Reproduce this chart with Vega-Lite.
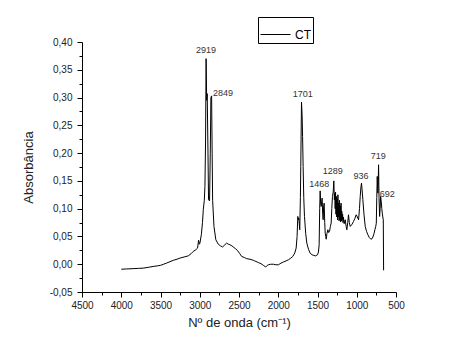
{
  "$schema": "https://vega.github.io/schema/vega-lite/v6.json",
  "autosize": {"type": "none"},
  "padding": {"left": 82, "top": 42, "right": 67, "bottom": 61},
  "width": 314,
  "height": 250,
  "background": "white",
  "config": {
    "view": {"stroke": null},
    "font": "Liberation Sans",
    "axis": {
      "grid": false,
      "domainColor": "black",
      "tickColor": "black",
      "labelColor": "#222",
      "titleColor": "#222",
      "labelFont": "Liberation Sans",
      "titleFont": "Liberation Sans",
      "labelFontSize": 10,
      "titleFontSize": 13,
      "titleFontWeight": "normal",
      "labelOverlap": false
    }
  },
  "datasets": {
    "spec": [
      {"wn": 4000, "abs": -0.009}, {"wn": 3930, "abs": -0.0085}, {"wn": 3849, "abs": -0.008}, {"wn": 3780, "abs": -0.0075},
      {"wn": 3721, "abs": -0.007}, {"wn": 3650, "abs": -0.0055}, {"wn": 3594, "abs": -0.004}, {"wn": 3540, "abs": -0.003},
      {"wn": 3500, "abs": -0.002}, {"wn": 3460, "abs": 0.0}, {"wn": 3423, "abs": 0.002}, {"wn": 3380, "abs": 0.0045},
      {"wn": 3338, "abs": 0.007}, {"wn": 3290, "abs": 0.009}, {"wn": 3253, "abs": 0.011}, {"wn": 3200, "abs": 0.013},
      {"wn": 3147, "abs": 0.015}, {"wn": 3110, "abs": 0.019}, {"wn": 3083, "abs": 0.023}, {"wn": 3050, "abs": 0.026},
      {"wn": 3028, "abs": 0.029}, {"wn": 3015, "abs": 0.043}, {"wn": 3005, "abs": 0.036}, {"wn": 2998, "abs": 0.038},
      {"wn": 2980, "abs": 0.053}, {"wn": 2965, "abs": 0.075}, {"wn": 2955, "abs": 0.098}, {"wn": 2942, "abs": 0.115},
      {"wn": 2934, "abs": 0.14}, {"wn": 2926, "abs": 0.22}, {"wn": 2919, "abs": 0.37}, {"wn": 2912, "abs": 0.295},
      {"wn": 2905, "abs": 0.307}, {"wn": 2895, "abs": 0.2}, {"wn": 2888, "abs": 0.116}, {"wn": 2875, "abs": 0.114},
      {"wn": 2866, "abs": 0.2}, {"wn": 2858, "abs": 0.3}, {"wn": 2849, "abs": 0.303}, {"wn": 2842, "abs": 0.2},
      {"wn": 2836, "abs": 0.115}, {"wn": 2825, "abs": 0.085}, {"wn": 2819, "abs": 0.068}, {"wn": 2795, "abs": 0.044},
      {"wn": 2764, "abs": 0.036}, {"wn": 2735, "abs": 0.033}, {"wn": 2709, "abs": 0.031}, {"wn": 2680, "abs": 0.035},
      {"wn": 2658, "abs": 0.038}, {"wn": 2635, "abs": 0.036}, {"wn": 2615, "abs": 0.035}, {"wn": 2590, "abs": 0.033},
      {"wn": 2572, "abs": 0.031}, {"wn": 2545, "abs": 0.028}, {"wn": 2521, "abs": 0.025}, {"wn": 2490, "abs": 0.019},
      {"wn": 2466, "abs": 0.014}, {"wn": 2430, "abs": 0.012}, {"wn": 2402, "abs": 0.010}, {"wn": 2360, "abs": 0.009},
      {"wn": 2317, "abs": 0.007}, {"wn": 2285, "abs": 0.005}, {"wn": 2253, "abs": 0.003}, {"wn": 2220, "abs": 0.001},
      {"wn": 2190, "abs": -0.002}, {"wn": 2160, "abs": -0.005}, {"wn": 2140, "abs": -0.002}, {"wn": 2126, "abs": -0.001},
      {"wn": 2095, "abs": 0.0}, {"wn": 2062, "abs": 0.0}, {"wn": 2030, "abs": -0.001}, {"wn": 1998, "abs": -0.001},
      {"wn": 1965, "abs": 0.002}, {"wn": 1934, "abs": 0.004}, {"wn": 1900, "abs": 0.006}, {"wn": 1870, "abs": 0.008},
      {"wn": 1840, "abs": 0.011}, {"wn": 1815, "abs": 0.014}, {"wn": 1790, "abs": 0.02}, {"wn": 1772, "abs": 0.029},
      {"wn": 1760, "abs": 0.05}, {"wn": 1751, "abs": 0.086}, {"wn": 1744, "abs": 0.08}, {"wn": 1738, "abs": 0.083},
      {"wn": 1726, "abs": 0.062}, {"wn": 1718, "abs": 0.12}, {"wn": 1713, "abs": 0.176}, {"wn": 1704, "abs": 0.292},
      {"wn": 1696, "abs": 0.268}, {"wn": 1690, "abs": 0.23}, {"wn": 1683, "abs": 0.176}, {"wn": 1675, "abs": 0.12},
      {"wn": 1666, "abs": 0.086}, {"wn": 1650, "abs": 0.055}, {"wn": 1636, "abs": 0.038}, {"wn": 1615, "abs": 0.027},
      {"wn": 1594, "abs": 0.020}, {"wn": 1570, "abs": 0.017}, {"wn": 1551, "abs": 0.016}, {"wn": 1525, "abs": 0.015},
      {"wn": 1500, "abs": 0.017}, {"wn": 1488, "abs": 0.022}, {"wn": 1479, "abs": 0.035}, {"wn": 1472, "abs": 0.1},
      {"wn": 1466, "abs": 0.132}, {"wn": 1460, "abs": 0.11}, {"wn": 1453, "abs": 0.104}, {"wn": 1447, "abs": 0.112},
      {"wn": 1441, "abs": 0.119}, {"wn": 1434, "abs": 0.09}, {"wn": 1428, "abs": 0.080}, {"wn": 1421, "abs": 0.105},
      {"wn": 1415, "abs": 0.110}, {"wn": 1408, "abs": 0.075}, {"wn": 1402, "abs": 0.056}, {"wn": 1395, "abs": 0.05},
      {"wn": 1389, "abs": 0.045}, {"wn": 1380, "abs": 0.055}, {"wn": 1368, "abs": 0.062}, {"wn": 1358, "abs": 0.057},
      {"wn": 1347, "abs": 0.059}, {"wn": 1336, "abs": 0.068}, {"wn": 1326, "abs": 0.074}, {"wn": 1318, "abs": 0.1},
      {"wn": 1309, "abs": 0.122}, {"wn": 1300, "abs": 0.13}, {"wn": 1292, "abs": 0.150}, {"wn": 1285, "abs": 0.116},
      {"wn": 1280, "abs": 0.128}, {"wn": 1275, "abs": 0.10}, {"wn": 1270, "abs": 0.13}, {"wn": 1265, "abs": 0.09},
      {"wn": 1260, "abs": 0.122}, {"wn": 1255, "abs": 0.085}, {"wn": 1250, "abs": 0.118}, {"wn": 1245, "abs": 0.08},
      {"wn": 1240, "abs": 0.125}, {"wn": 1235, "abs": 0.085}, {"wn": 1230, "abs": 0.11}, {"wn": 1225, "abs": 0.078},
      {"wn": 1220, "abs": 0.115}, {"wn": 1215, "abs": 0.08}, {"wn": 1210, "abs": 0.105}, {"wn": 1205, "abs": 0.076},
      {"wn": 1200, "abs": 0.11}, {"wn": 1195, "abs": 0.078}, {"wn": 1190, "abs": 0.095}, {"wn": 1185, "abs": 0.08},
      {"wn": 1180, "abs": 0.09}, {"wn": 1175, "abs": 0.075}, {"wn": 1170, "abs": 0.085}, {"wn": 1160, "abs": 0.073},
      {"wn": 1147, "abs": 0.080}, {"wn": 1135, "abs": 0.068}, {"wn": 1126, "abs": 0.062}, {"wn": 1115, "abs": 0.075},
      {"wn": 1105, "abs": 0.089}, {"wn": 1095, "abs": 0.075}, {"wn": 1083, "abs": 0.068}, {"wn": 1060, "abs": 0.072},
      {"wn": 1041, "abs": 0.077}, {"wn": 1025, "abs": 0.082}, {"wn": 1007, "abs": 0.089}, {"wn": 992, "abs": 0.085},
      {"wn": 977, "abs": 0.080}, {"wn": 965, "abs": 0.1}, {"wn": 956, "abs": 0.122}, {"wn": 946, "abs": 0.14},
      {"wn": 939, "abs": 0.146}, {"wn": 930, "abs": 0.13}, {"wn": 922, "abs": 0.116}, {"wn": 908, "abs": 0.09},
      {"wn": 892, "abs": 0.068}, {"wn": 875, "abs": 0.059}, {"wn": 858, "abs": 0.053}, {"wn": 840, "abs": 0.048},
      {"wn": 820, "abs": 0.045}, {"wn": 805, "abs": 0.046}, {"wn": 794, "abs": 0.049}, {"wn": 780, "abs": 0.055},
      {"wn": 769, "abs": 0.062}, {"wn": 758, "abs": 0.068}, {"wn": 751, "abs": 0.074}, {"wn": 745, "abs": 0.12},
      {"wn": 739, "abs": 0.158}, {"wn": 731, "abs": 0.128}, {"wn": 726, "abs": 0.15}, {"wn": 722, "abs": 0.179},
      {"wn": 716, "abs": 0.12}, {"wn": 709, "abs": 0.086}, {"wn": 702, "abs": 0.1}, {"wn": 696, "abs": 0.122},
      {"wn": 688, "abs": 0.113}, {"wn": 681, "abs": 0.1}, {"wn": 675, "abs": 0.092}, {"wn": 668, "abs": 0.085},
      {"wn": 662, "abs": 0.080}, {"wn": 658, "abs": -0.011}
    ],
    "peaks": [
      {"peak": "2919", "wn": 2921, "abs": 0.385},
      {"peak": "2849", "wn": 2704, "abs": 0.3085},
      {"peak": "1701", "wn": 1687, "abs": 0.306},
      {"peak": "1468", "wn": 1479, "abs": 0.145},
      {"peak": "1289", "wn": 1305, "abs": 0.167},
      {"peak": "936", "wn": 947, "abs": 0.159},
      {"peak": "719", "wn": 726, "abs": 0.194},
      {"peak": "692", "wn": 611, "abs": 0.127}
    ]
  },
  "encoding": {
    "x": {
      "field": "wn", "type": "quantitative",
      "scale": {"domain": [500, 4500], "reverse": true, "nice": false, "zero": false},
      "axis": {
        "title": "Nº de onda (cm⁻¹)",
        "values": [500, 750, 1000, 1250, 1500, 1750, 2000, 2250, 2500, 2750, 3000, 3250, 3500, 3750, 4000, 4250, 4500],
        "labelExpr": "datum.value % 500 == 0 ? format(datum.value, 'd') : ''",
        "tickSize": {"condition": {"test": "datum.value % 500 == 0", "value": 5}, "value": 3},
        "labelPadding": 3,
        "titlePadding": 6,
        "labelFlush": false,
        "labelOverlap": false
      }
    },
    "y": {
      "field": "abs", "type": "quantitative",
      "scale": {"domain": [-0.05, 0.4], "nice": false, "zero": false},
      "axis": {
        "title": "Absorbância",
        "values": [-0.05, -0.025, 0, 0.025, 0.05, 0.075, 0.1, 0.125, 0.15, 0.175, 0.2, 0.225, 0.25, 0.275, 0.3, 0.325, 0.35, 0.375, 0.4],
        "labelExpr": "abs(round(datum.value * 1000)) % 50 == 0 ? replace(replace(format(datum.value, '.2f'), '.', ','), '−', '-') : ''",
        "tickSize": {"condition": {"test": "abs(round(datum.value * 1000)) % 50 == 0", "value": 5}, "value": 3},
        "labelPadding": 5,
        "titlePadding": 14,
        "labelFlush": false,
        "labelOverlap": false
      }
    }
  },
  "layer": [
    {
      "data": {"name": "spec"},
      "mark": {"type": "line", "strokeWidth": 1, "interpolate": "linear"},
      "encoding": {
        "color": {
          "datum": "CT",
          "type": "nominal",
          "scale": {"range": ["black"]},
          "legend": {
            "title": null,
            "orient": "none",
            "legendX": 176,
            "legendY": -25,
            "symbolType": "stroke",
            "symbolSize": 900,
            "symbolStrokeWidth": 1,
            "strokeColor": "black",
            "padding": 2,
            "labelFontSize": 12,
            "labelFont": "Liberation Sans",
            "labelColor": "black",
            "labelOffset": 4
          }
        }
      }
    },
    {
      "data": {"name": "peaks"},
      "mark": {"type": "text", "fontSize": 9, "font": "Liberation Sans", "color": "#333", "align": "center", "baseline": "middle"},
      "encoding": {
        "text": {"field": "peak"}
      }
    }
  ]
}
